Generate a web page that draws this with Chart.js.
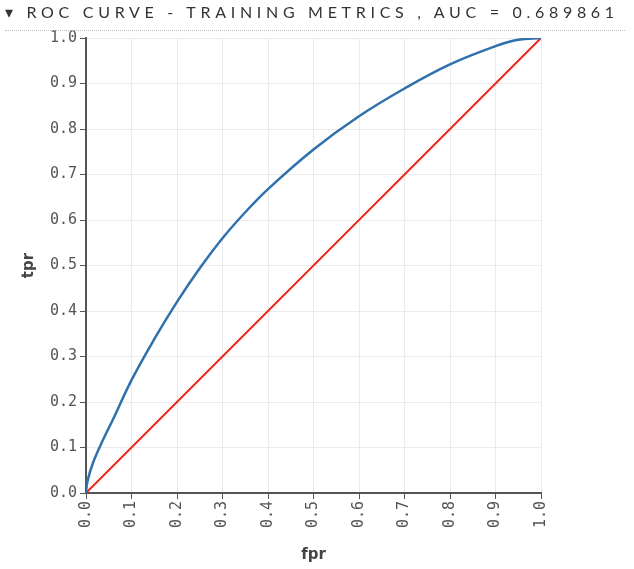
<!DOCTYPE html>
<html>
<head>
<meta charset="utf-8">
<script src="https://cdn.jsdelivr.net/npm/chart.js@4"></script>
<style>
    body { margin: 0; background: #fff; }
    #wrap { position: relative; width: 634px; height: 569px; }
    #title {
        position: absolute; left: 5px; top: 1px; width: 620px;
        font-family: Lato, sans-serif; font-size: 16px; letter-spacing: 4.7px;
        color: #333; white-space: nowrap; line-height: 22px;
        padding-bottom: 7px; border-bottom: 1px dotted #bbb;
    }
    #roc-chart { position: absolute; left: 0; top: 0; }
</style>
</head>
<body>
<div id="wrap">
    <canvas id="roc-chart" width="634" height="569"></canvas>
    <div id="title">▾ ROC CURVE - TRAINING METRICS , AUC = 0.689861</div>
</div>
<script>
const fprValues = [0, 0.003, 0.016, 0.038, 0.06, 0.1, 0.15, 0.2, 0.25, 0.3, 0.35, 0.4, 0.5, 0.6, 0.7, 0.8, 0.9, 0.95, 1.0];
const tprValues = [0, 0.025, 0.068, 0.118, 0.163, 0.248, 0.338, 0.42, 0.494, 0.56, 0.617, 0.668, 0.755, 0.828, 0.889, 0.942, 0.982, 0.996, 1.0];
const diagonalX = [0, 1];
const diagonalY = [0, 1];
const tickValues = [0, 0.1, 0.2, 0.3, 0.4, 0.5, 0.6, 0.7, 0.8, 0.9, 1.0];

document.addEventListener('DOMContentLoaded', function() {
    const ctx = document.getElementById('roc-chart').getContext('2d');

    const tickFont = { family: '"DejaVu Sans Mono", monospace', size: 15 };
    const titleFont = { family: '"DejaVu Sans", sans-serif', size: 15, weight: 'bold' };

    function fixedTicks(axis) {
        axis.ticks = tickValues.map(v => ({ value: v }));
    }

    new Chart(ctx, {
        type: 'scatter',
        data: {
            datasets: [
                {
                    label: 'roc',
                    data: fprValues.map((x, i) => ({ x: x, y: tprValues[i] })),
                    showLine: true,
                    borderColor: '#2f70ad',
                    borderWidth: 2.5,
                    pointRadius: 0,
                    tension: 0.4,
                    order: 1
                },
                {
                    label: 'random',
                    data: diagonalX.map((x, i) => ({ x: x, y: diagonalY[i] })),
                    showLine: true,
                    borderColor: '#f0281e',
                    borderWidth: 2,
                    pointRadius: 0,
                    order: 2
                }
            ]
        },
        options: {
            responsive: false,
            animation: false,
            layout: {
                padding: { left: 0, right: 93, top: 38, bottom: 0 }
            },
            scales: {
                x: {
                    type: 'linear',
                    min: 0,
                    max: 1,
                    afterBuildTicks: fixedTicks,
                    afterFit: function(scale) { scale.height = 76; },
                    border: { color: '#555', width: 2 },
                    grid: { color: '#ebebeb', tickColor: '#555', tickLength: 6 },
                    ticks: {
                        minRotation: 90,
                        maxRotation: 90,
                        padding: 2,
                        color: '#555',
                        font: tickFont,
                        callback: function(value) { return value.toFixed(1); }
                    },
                    title: {
                        display: true,
                        text: 'fpr',
                        color: '#444',
                        font: titleFont,
                        padding: { top: 0, bottom: 5 }
                    }
                },
                y: {
                    type: 'linear',
                    min: 0,
                    max: 1,
                    afterBuildTicks: fixedTicks,
                    afterFit: function(scale) { scale.width = 86; },
                    border: { color: '#555', width: 2 },
                    grid: { color: '#ebebeb', tickColor: '#555', tickLength: 6 },
                    ticks: {
                        padding: 3,
                        color: '#555',
                        font: tickFont,
                        callback: function(value) { return value.toFixed(1); }
                    },
                    title: {
                        display: true,
                        text: 'tpr',
                        color: '#444',
                        font: titleFont,
                        padding: { top: 20, bottom: 0 }
                    }
                }
            },
            plugins: {
                legend: { display: false },
                tooltip: { enabled: false }
            }
        }
    });
});
</script>
</body>
</html>
